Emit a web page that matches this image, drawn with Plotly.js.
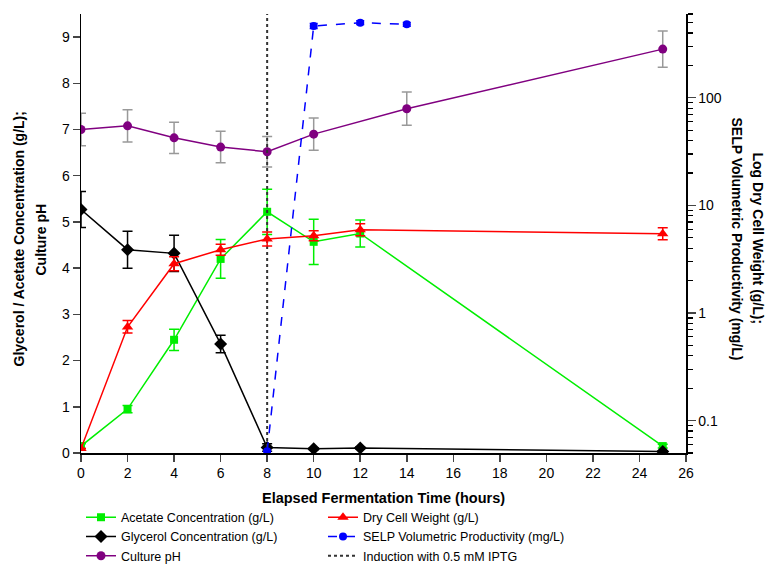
<!DOCTYPE html>
<html>
<head>
<meta charset="utf-8">
<script src="https://cdn.plot.ly/plotly-3.0.1.min.js"></script>
<style>html,body{margin:0;padding:0;background:#fff;}#chart{width:766px;height:565px;}</style>
</head>
<body>
<div id="chart"></div>
<script>
// ---- data ----
const timeMain = [0, 2, 4, 6, 8, 10, 12, 25];
const acetate = [0.15, 0.95, 2.45, 4.20, 5.22, 4.57, 4.75, 0.15];
const acetateErr = [0.05, 0.08, 0.23, 0.42, 0.49, 0.49, 0.29, 0.04];
const glycerol = [5.27, 4.40, 4.32, 2.36, 0.12, 0.09, 0.11, 0.03];
const glycerolErr = [0.39, 0.40, 0.39, 0.19, 0.08, 0.02, 0.02, 0.02];
const dcw = [0.055, 0.74, 2.87, 3.87, 4.87, 5.23, 5.94, 5.46];
const dcwErrPlus = [0, 0.11, 0.46, 0.48, 0.79, 0.59, 0.81, 0.75];
const dcwErrMinus = [0, 0.09, 0.40, 0.43, 0.68, 0.53, 0.72, 0.66];
const timePH = [0, 2, 4, 6, 8, 10, 14, 25];
const ph = [7.00, 7.08, 6.82, 6.62, 6.52, 6.90, 7.45, 8.74];
const phErr = [0.35, 0.35, 0.34, 0.34, 0.33, 0.35, 0.36, 0.39];
const timeSELP = [8, 10, 12, 14];
const selp = [0.052, 464, 498, 481];
const selpErr = [0, 25, 20, 20];
const inductionTime = [8, 8];
const inductionY = [0, 9.5];
const xTicks = [0, 2, 4, 6, 8, 10, 12, 14, 16, 18, 20, 22, 24, 26];
const y2Ticks = [0.1, 1, 10, 100];
const y2TickText = ['0.1', '1', '10', '100'];

// minor tick positions for the log axis
const y2Minor = [];
[0.01, 0.1, 1, 10, 100].forEach(d => { for (let m = 2; m <= 9; m++) { const v = m * d; if (v >= 0.05 && v <= 600) y2Minor.push(v); } });

const FONT = 'Liberation Sans, Arial, Helvetica, sans-serif';

const traces = [
  { x: timeMain, y: acetate, name: 'Acetate Concentration (g/L)', mode: 'lines+markers',
    line: { color: '#00ee00', width: 1.5 }, marker: { symbol: 'square', size: 8, color: '#00ee00' },
    error_y: { type: 'data', array: acetateErr, visible: true, color: '#00ee00', thickness: 1.5, width: 5 } },
  { x: timeMain, y: dcw, name: 'Dry Cell Weight (g/L)', yaxis: 'y2', mode: 'lines+markers',
    line: { color: '#ff0000', width: 1.5 }, marker: { symbol: 'triangle-up', size: 10, color: '#ff0000' },
    error_y: { type: 'data', symmetric: false, array: dcwErrPlus, arrayminus: dcwErrMinus, visible: true, color: '#ff0000', thickness: 1.5, width: 5 } },
  { x: timeMain, y: glycerol, name: 'Glycerol Concentration (g/L)', mode: 'lines+markers',
    line: { color: '#000000', width: 1.5 }, marker: { symbol: 'diamond', size: 10, color: '#000000' },
    error_y: { type: 'data', array: glycerolErr, visible: true, color: '#000000', thickness: 1.5, width: 5 } },
  { x: timeSELP, y: selp, name: 'SELP Volumetric Productivity (mg/L)', yaxis: 'y2', mode: 'lines+markers',
    line: { color: '#0000ff', width: 1.5, dash: 'dash' }, marker: { symbol: 'circle', size: 8, color: '#0000ff' },
    error_y: { type: 'data', array: selpErr, visible: true, color: '#0000ff', thickness: 1.5, width: 4 } },
  { x: timePH, y: ph, name: 'Culture pH', mode: 'lines+markers',
    line: { color: '#800080', width: 1.5 }, marker: { symbol: 'circle', size: 9, color: '#800080' },
    error_y: { type: 'data', array: phErr, visible: true, color: '#999999', thickness: 1.5, width: 5 } },
  { x: inductionTime, y: inductionY, name: 'Induction with 0.5 mM IPTG', mode: 'lines',
    line: { color: '#333333', width: 2, dash: 'dot' } }
];

const layout = {
  width: 766, height: 565,
  margin: { l: 81, r: 80, t: 14, b: 112, autoexpand: false },
  paper_bgcolor: '#ffffff', plot_bgcolor: '#ffffff',
  font: { family: FONT, size: 14, color: '#000' },
  showlegend: true,
  legend: {
    orientation: 'h', x: 0, xanchor: 'left', y: -0.113, yanchor: 'top',
    font: { family: FONT, size: 12.5, color: '#000' }, entrywidth: 197, entrywidthmode: 'pixels',
    traceorder: 'normal', bgcolor: 'rgba(0,0,0,0)', tracegroupgap: 0
  },
  xaxis: {
    range: [0, 26], tickvals: xTicks, ticks: 'outside', ticklen: 7, tickwidth: 1.5,
    showline: true, linecolor: '#000', linewidth: 1.5, showgrid: false, zeroline: false,
    tickfont: { size: 14 },
    title: { text: '<b>Elapsed Fermentation Time (hours)</b>', font: { size: 14.5 }, standoff: 12 }
  },
  yaxis: {
    range: [0, 9.5], dtick: 1, ticks: 'outside', ticklen: 7, tickwidth: 1.5,
    showline: true, linecolor: '#000', linewidth: 1.5, showgrid: false, zeroline: false,
    tickfont: { size: 14 }
  },
  yaxis2: {
    type: 'log', overlaying: 'y', side: 'right',
    range: [Math.log10(0.05), Math.log10(600)],
    tickvals: y2Ticks, ticktext: y2TickText, ticks: 'outside', ticklen: 8, tickwidth: 1.5,
    minor: { tickvals: y2Minor, ticks: 'outside', ticklen: 5, tickwidth: 1.2, tickcolor: '#000', showgrid: false },
    showline: true, linecolor: '#000', linewidth: 1.5, showgrid: false, zeroline: false,
    tickfont: { size: 14 }
  },
  annotations: [
    { text: '<b>Glycerol / Acetate Concentration (g/L);</b>', xref: 'paper', yref: 'paper',
      x: 0, y: 0.5, xanchor: 'center', yanchor: 'middle', textangle: -90, showarrow: false,
      font: { size: 14 }, xshift: -63, yshift: -6 },
    { text: '<b>Culture pH</b>', xref: 'paper', yref: 'paper',
      x: 0, y: 0.5, xanchor: 'center', yanchor: 'middle', textangle: -90, showarrow: false,
      font: { size: 14 }, xshift: -41, yshift: -6 },
    { text: '<b>Log Dry Cell Weight (g/L);</b>', xref: 'paper', yref: 'paper',
      x: 1, y: 0.5, xanchor: 'center', yanchor: 'middle', textangle: 90, showarrow: false,
      font: { size: 14 }, xshift: 72, yshift: -5 },
    { text: '<b>SELP Volumetric Productivity (mg/L)</b>', xref: 'paper', yref: 'paper',
      x: 1, y: 0.5, xanchor: 'center', yanchor: 'middle', textangle: 90, showarrow: false,
      font: { size: 14 }, xshift: 51, yshift: -5 }
  ]
};

Plotly.newPlot('chart', traces, layout, { displayModeBar: false, staticPlot: true });
</script>
</body>
</html>
